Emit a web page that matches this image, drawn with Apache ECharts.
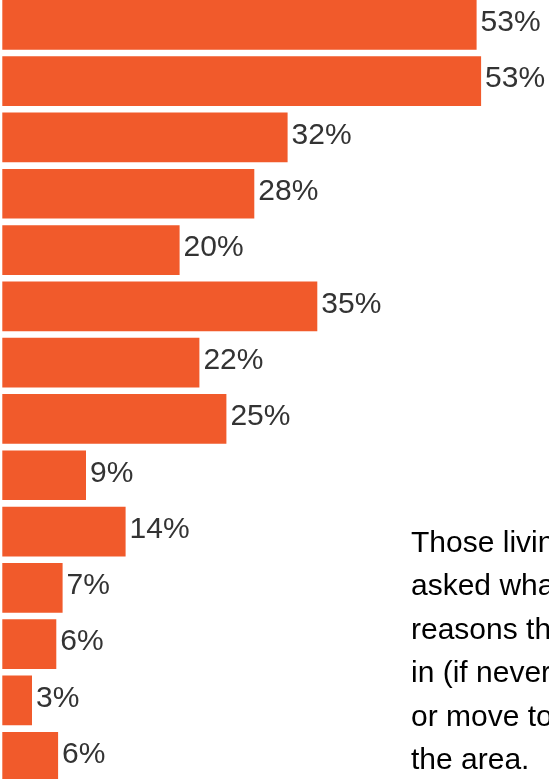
<!DOCTYPE html>
<html>
<head>
<meta charset="utf-8">
<script src="https://cdn.jsdelivr.net/npm/echarts@6/dist/echarts.min.js"></script>
<style>
  html, body { margin: 0; padding: 0; background: #ffffff; }
  #chart { width: 549px; height: 779px; }
</style>
</head>
<body>
<div id="chart"></div>
<script>
// Reasons for living in the area, share of respondents (%)
const categories = [
  'Reason 1', 'Reason 2', 'Reason 3', 'Reason 4', 'Reason 5', 'Reason 6', 'Reason 7',
  'Reason 8', 'Reason 9', 'Reason 10', 'Reason 11', 'Reason 12', 'Reason 13', 'Reason 14'
];
const shares = [52.7, 53.2, 31.7, 28.0, 19.7, 35.0, 21.9, 24.9, 9.3, 13.7, 6.7, 6.0, 3.3, 6.2];

const noteLines = [
  'Those living in the area were',
  'asked what were the main',
  'reasons they chose to live',
  'in (if never left the area)',
  'or move to (if returned)',
  'the area.'
];

const chart = echarts.init(document.getElementById('chart'), null, { renderer: 'canvas' });

chart.setOption({
  animation: false,
  backgroundColor: '#ffffff',
  grid: {
    left: 2.3,
    top: -3.3,
    width: 540,
    height: 788.2,
    containLabel: false,
    outerBoundsMode: 'none'
  },
  xAxis: {
    type: 'value',
    min: 0,
    max: 60,
    show: false
  },
  yAxis: {
    type: 'category',
    data: categories,
    inverse: true,
    show: false
  },
  series: [{
    type: 'bar',
    data: shares,
    barCategoryGap: '11.7%',
    itemStyle: { color: '#f15a2b' },
    label: {
      show: true,
      position: 'right',
      distance: 4,
      offset: [0, -2],
      color: '#333333',
      fontFamily: 'Liberation Sans, Arial, sans-serif',
      fontSize: 30,
      formatter: p => Math.round(p.value) + '%'
    }
  }],
  graphic: [{
    type: 'text',
    left: 411,
    top: 522,
    style: {
      text: noteLines.join('\n'),
      fill: '#000000',
      fontFamily: 'Liberation Sans, Arial, sans-serif',
      fontSize: 30,
      lineHeight: 43.4
    }
  }]
});
</script>
</body>
</html>
